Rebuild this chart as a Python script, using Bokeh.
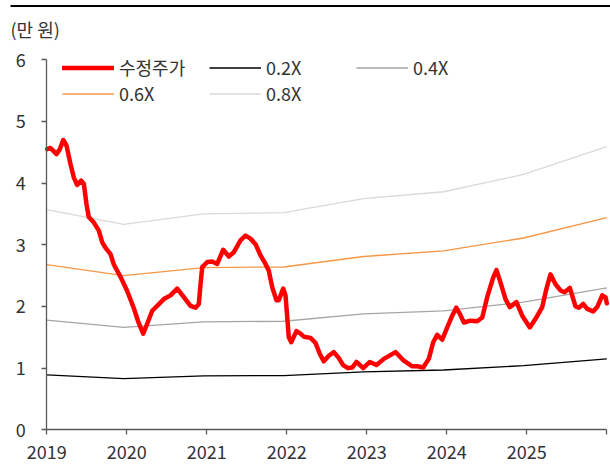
from bokeh.plotting import figure
from bokeh.models import (ColumnDataSource, Legend, LegendItem, FixedTicker, Range1d,
                          Label, BoxAnnotation, LinearAxis)
from bokeh.embed import file_html
from bokeh.resources import INLINE

# ---- data ----
years_ticks = [2019, 2020, 2021, 2022, 2023, 2024, 2025, 2026]
tick_labels = {2026: ""}
y_ticks = [0, 1, 2, 3, 4, 5, 6]

price_x = [2019.005, 2019.046, 2019.084, 2019.121, 2019.163, 2019.205, 2019.246, 2019.296,
           2019.338, 2019.380, 2019.430, 2019.463, 2019.496, 2019.525, 2019.588, 2019.650,
           2019.693, 2019.734, 2019.796, 2019.838, 2019.921, 2020.005, 2020.088, 2020.146,
           2020.205, 2020.255, 2020.318, 2020.380, 2020.463, 2020.546, 2020.630, 2020.713,
           2020.796, 2020.859, 2020.900, 2020.921, 2020.943, 2021.005, 2021.068, 2021.130,
           2021.205, 2021.275, 2021.338, 2021.421, 2021.484, 2021.546, 2021.609, 2021.671,
           2021.734, 2021.775, 2021.818, 2021.871, 2021.900, 2021.955, 2021.984, 2022.025,
           2022.055, 2022.121, 2022.171, 2022.213, 2022.296, 2022.359, 2022.413, 2022.463,
           2022.525, 2022.588, 2022.646, 2022.703, 2022.765, 2022.818, 2022.871, 2022.955,
           2023.038, 2023.121, 2023.213, 2023.359, 2023.463, 2023.568, 2023.630, 2023.705,
           2023.775, 2023.830, 2023.880, 2023.943, 2024.005, 2024.068, 2024.118, 2024.163,
           2024.213, 2024.296, 2024.380, 2024.443, 2024.505, 2024.580, 2024.621, 2024.671,
           2024.734, 2024.788, 2024.871, 2024.943, 2025.038, 2025.109, 2025.193, 2025.246,
           2025.296, 2025.359, 2025.421, 2025.471, 2025.538, 2025.609, 2025.650, 2025.705,
           2025.755, 2025.830, 2025.880, 2025.943, 2025.984, 2026.000]
price_y = [4.55, 4.57, 4.52, 4.47, 4.55, 4.70, 4.61, 4.31,
           4.09, 3.97, 4.04, 3.99, 3.66, 3.45, 3.36, 3.23,
           3.04, 2.95, 2.85, 2.68, 2.48, 2.25, 1.97, 1.74,
           1.56, 1.72, 1.93, 2.01, 2.12, 2.18, 2.29, 2.15,
           2.01, 1.98, 2.04, 2.35, 2.64, 2.72, 2.73, 2.69,
           2.92, 2.81, 2.88, 3.07, 3.15, 3.10, 3.01, 2.83,
           2.69, 2.58, 2.31, 2.10, 2.10, 2.29, 2.18, 1.50,
           1.42, 1.60, 1.56, 1.51, 1.49, 1.41, 1.23, 1.11,
           1.20, 1.26, 1.17, 1.05, 1.00, 1.01, 1.10, 1.00,
           1.10, 1.05, 1.15, 1.26, 1.12, 1.03, 1.03, 1.01,
           1.15, 1.42, 1.54, 1.46, 1.66, 1.85, 1.98, 1.88,
           1.74, 1.77, 1.76, 1.82, 2.15, 2.47, 2.59, 2.39,
           2.12, 1.99, 2.07, 1.85, 1.66, 1.80, 1.99, 2.29,
           2.52, 2.36, 2.26, 2.23, 2.30, 2.00, 1.98, 2.04,
           1.96, 1.92, 1.99, 2.18, 2.15, 2.05]

band_x = [2019.0, 2019.96, 2020.96, 2021.96, 2022.96, 2023.96, 2024.96, 2026.0]
band_02 = [0.89, 0.83, 0.875, 0.88, 0.94, 0.97, 1.04, 1.15]
band_04 = [1.78, 1.66, 1.75, 1.76, 1.88, 1.93, 2.07, 2.30]
band_06 = [2.68, 2.50, 2.63, 2.64, 2.81, 2.90, 3.11, 3.44]
band_08 = [3.57, 3.33, 3.50, 3.52, 3.75, 3.86, 4.14, 4.59]

names = ["수정주가", "0.2X", "0.4X", "0.6X", "0.8X"]
unit_label = "(만 원)"

FONT = "Noto Sans CJK KR"
TXT = "#333333"
AX = "#595959"

FW, FH = 610, 471
PX_PER_YEAR = 80.0
PX_PER_UNIT = 61.67
X0_PX = 46.3
Y0_PX = 429.3
x_start = 2019 - X0_PX / PX_PER_YEAR
x_end = x_start + FW / PX_PER_YEAR
y_end = Y0_PX / PX_PER_UNIT
y_start = -(FH - Y0_PX) / PX_PER_UNIT

p = figure(frame_width=FW, frame_height=FH, output_backend="svg", toolbar_location=None,
           x_range=Range1d(x_start, x_end), y_range=Range1d(y_start, y_end),
           x_axis_location=None, y_axis_location=None,
           min_border_left=0, min_border_right=0, min_border_top=0, min_border_bottom=0)
p.background_fill_color = "white"
p.border_fill_color = "white"
p.outline_line_color = None
p.grid.visible = False

src_b = ColumnDataSource(dict(x=band_x, b2=band_02, b4=band_04, b6=band_06, b8=band_08))
src_p = ColumnDataSource(dict(x=price_x, y=price_y))

r8 = p.line("x", "b8", source=src_b, line_color="#D9D9D9", line_width=1.3)
r6 = p.line("x", "b6", source=src_b, line_color="#F79646", line_width=1.3)
r4 = p.line("x", "b4", source=src_b, line_color="#A6A6A6", line_width=1.3)
r2 = p.line("x", "b2", source=src_b, line_color="#000000", line_width=1.3)
rp = p.line("x", "y", source=src_p, line_color="#FF0000", line_width=4.5,
            line_join="round", line_cap="round")

xaxis = LinearAxis(ticker=FixedTicker(ticks=years_ticks), bounds=(2019, 2026),
                   fixed_location=0, major_label_overrides=tick_labels,
                   major_label_standoff=10)
yaxis = LinearAxis(ticker=FixedTicker(ticks=y_ticks), bounds=(0, 6),
                   fixed_location=2019, major_label_standoff=16)
for ax in (xaxis, yaxis):
    ax.axis_line_color = AX
    ax.axis_line_width = 1.3
    ax.major_tick_line_color = AX
    ax.major_tick_line_width = 1.3
    ax.major_tick_out = 5
    ax.major_tick_in = 0
    ax.minor_tick_line_color = None
    ax.major_label_text_font = FONT
    ax.major_label_text_font_size = "18px"
    ax.major_label_text_color = TXT
p.add_layout(xaxis, "below")
p.add_layout(yaxis, "left")

legend = Legend(items=[LegendItem(label=names[0], renderers=[rp]),
                       LegendItem(label=names[1], renderers=[r2]),
                       LegendItem(label=names[2], renderers=[r4]),
                       LegendItem(label=names[3], renderers=[r6]),
                       LegendItem(label=names[4], renderers=[r8])],
                orientation="horizontal", ncols=3,
                location=(62, FH - 106), padding=0, margin=0, spacing=0,
                glyph_width=52, glyph_height=23, label_height=23, label_width=90,
                label_standoff=5, label_text_font=FONT, label_text_font_size="18px",
                label_text_color=TXT, border_line_alpha=0, background_fill_alpha=0)
p.add_layout(legend, "center")

p.add_layout(Label(x=10, y=FH - 28, x_units="screen", y_units="screen", text=unit_label,
                   text_font=FONT, text_font_size="18px", text_color=TXT,
                   text_baseline="middle"))
p.add_layout(BoxAnnotation(left=10, right=FW, bottom=FH - 6.5, top=FH - 4.5,
                           left_units="screen", right_units="screen",
                           bottom_units="screen", top_units="screen",
                           fill_color="black", fill_alpha=1, line_color=None))

open("out.html", "w").write(file_html(p, INLINE))
